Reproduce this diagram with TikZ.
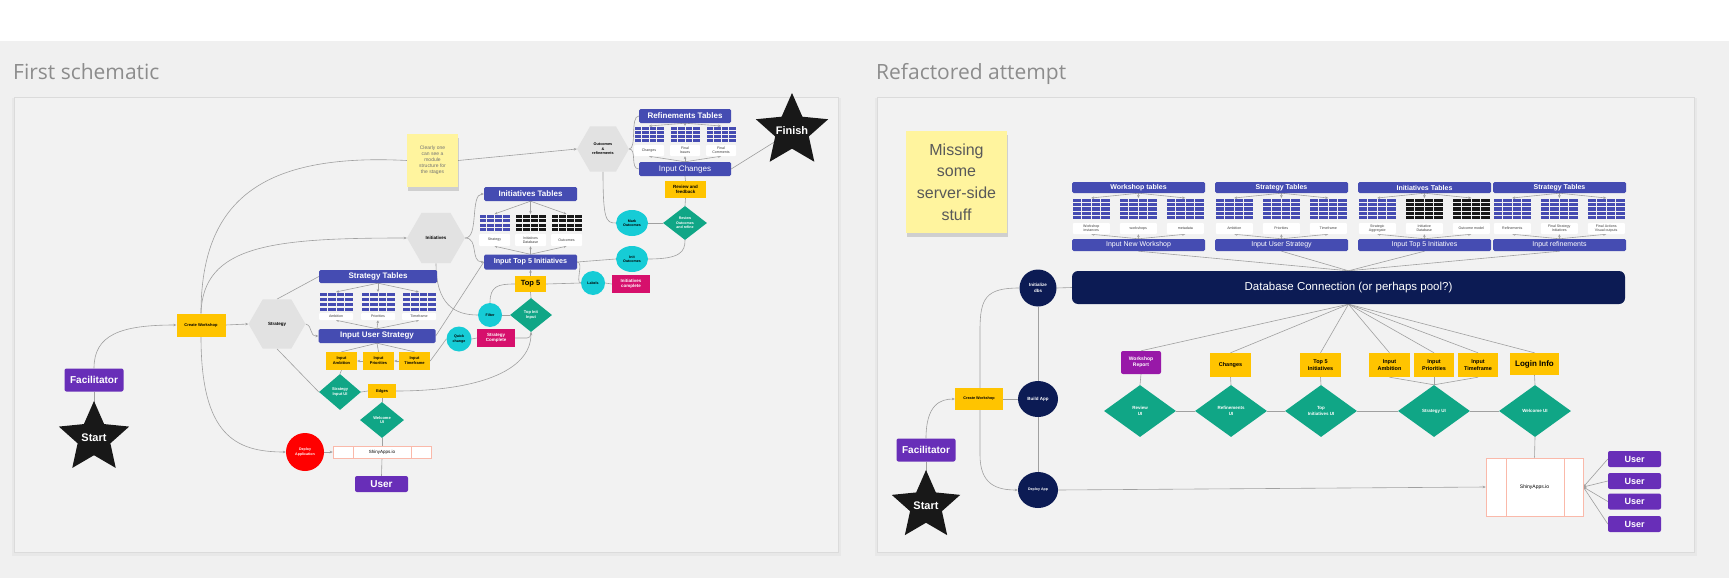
\documentclass[tikz,border=0pt]{standalone}
\usepackage{fontspec}
\setmainfont{Liberation Sans}
\newfontfamily\ttlfont{Open Sans}
\usetikzlibrary{shapes.geometric,arrows.meta,shadows}
\pgfdeclarelayer{back}
\pgfdeclarelayer{bg}
\pgfsetlayers{back,bg,main}
\newcommand\myfs[1]{\fontsize{#1}{1.2\dimexpr#1pt\relax}\selectfont}
\definecolor{tblue}{RGB}{69,76,178}
\definecolor{yel}{RGB}{255,196,0}
\definecolor{grn}{RGB}{16,166,134}
\definecolor{cya}{RGB}{22,204,214}
\definecolor{mag}{RGB}{214,16,108}
\definecolor{purp}{RGB}{104,46,184}
\definecolor{purp2}{RGB}{152,24,168}
\definecolor{navy}{RGB}{12,27,84}
\definecolor{hexg}{RGB}{226,226,226}
\definecolor{stk}{RGB}{255,244,158}
\definecolor{edg}{RGB}{160,160,160}
\definecolor{pbg}{RGB}{242,242,242}
\definecolor{obg}{RGB}{240,240,240}
\definecolor{salm}{RGB}{250,185,170}
\definecolor{starblk}{RGB}{24,24,24}
\newcommand\mygrid[7]{%
  \foreach \gi in {1,...,#5}{\foreach \gj in {1,...,#6}{%
    \fill[#7] ({#1+(\gi-1)*#3/#5+0.5},{#2+(\gj-1)*#4/#6+0.5}) rectangle ++({#3/#5-1},{#4/#6-1.1});}}}
\newcommand\tgroup[9]{%
  \node[hdr, sz={133}{11}, font=\bfseries\myfs{7}] (h#1) at ({#2+66.5},187.5) {#3};
  \mygrid{#2}{198}{38.5}{22}{4}{5}{tblue}
  \mygrid{#2+47}{198}{38.5}{22}{4}{5}{#8}
  \mygrid{#2+94}{198}{38.5}{22}{4}{5}{#9}
  \coordinate (g#1a) at ({#2+19.25},198);
  \coordinate (g#1b) at ({#2+66.25},198);
  \coordinate (g#1c) at ({#2+113.25},198);
  \node[lbl, sz={37}{11}] (l#1a) at ({#2+19.25},228.5) {#5};
  \node[lbl, sz={37}{11}] (l#1b) at ({#2+66.25},228.5) {#6};
  \node[lbl, sz={37}{11}] (l#1c) at ({#2+113.25},228.5) {#7};
  \node[hdr, sz={133}{12}, font=\myfs{7}] (f#1) at ({#2+66.5},245) {#4};
  \begin{pgfonlayer}{bg}
    \draw[ar] (h#1.south) -- (g#1a);
    \draw[ar] (h#1.south) -- (g#1b);
    \draw[ar] (h#1.south) -- (g#1c);
    \draw[ar] (f#1.north) -- (l#1a.south);
    \draw[ar] (f#1.north) -- (l#1b.south);
    \draw[ar] (f#1.north) -- (l#1c.south);
    \draw[ln] (f#1.south) -- (db.north);
  \end{pgfonlayer}
}
\begin{document}
\begin{tikzpicture}[x=1pt,y=-1pt,
  ln/.style={draw=edg, line width=0.6pt},
  ar/.style={ln, -{Stealth[length=3pt,width=2.6pt]}},
  sz/.style 2 args={minimum width=#1pt, minimum height=#2pt},
  bs/.style={inner sep=0pt, align=center},
  hdr/.style={bs, fill=tblue, rounded corners=1.5pt, text=white, font=\bfseries\myfs{8}},
  ybox/.style={bs, fill=yel, text=black, font=\bfseries\myfs{4}},
  lbl/.style={bs, fill=white, rounded corners=1pt, text=black!75, font=\myfs{3.6}},
  dia/.style={bs, diamond, fill=grn, text=white, font=\bfseries\myfs{4}},
  cyc/.style={bs, ellipse, fill=cya, text=black, font=\bfseries\myfs{3.6}},
  mg/.style={bs, fill=mag, text=white, font=\bfseries\myfs{4.5}},
  pu/.style={bs, fill=purp, rounded corners=2pt, text=white, font=\bfseries\myfs{10}},
  hx/.style={bs, regular polygon, regular polygon sides=6, fill=hexg, text=black, font=\bfseries\myfs{4.5}},
  stshape/.style={bs, star, star points=5, star point ratio=2.15, fill=starblk,
    label={[text=white, font=\bfseries\myfs{11}, inner sep=0pt]center:#1}},
  nv/.style={bs, ellipse, fill=navy, text=white, font=\bfseries\myfs{4.5}},
  shin/.style={bs, fill=white, draw=salm, line width=0.6pt, font=\myfs{4.5}},
  stickynote/.style={bs, fill=stk, drop shadow={opacity=0.3, shadow xshift=1pt, shadow yshift=-4pt}},
]
\useasboundingbox (0,0) rectangle (1729,578);
\begin{pgfonlayer}{back}
  \fill[white] (0,0) rectangle (1729,41);
  \fill[obg] (0,41) rectangle (1729,578);
  \fill[black!9] (12,98) rectangle (841,556);
  \fill[pbg, draw=black!14] (14,97) rectangle (838,552);
  \fill[black!9] (875,98) rectangle (1697,556);
  \fill[pbg, draw=black!14] (877,97) rectangle (1694,552);
\end{pgfonlayer}
\node[anchor=base west, inner sep=0pt, text=black!45, font=\ttlfont\myfs{21}] (t1) at (13,80) {First schematic};
\node[anchor=base west, inner sep=0pt, text=black!45, font=\ttlfont\myfs{21}] (t2) at (876,80) {Refactored attempt};

% ================= LEFT PANEL =================
\node[pu, sz={59}{23}] (facL) at (94,380) {Facilitator};
\node[stshape=Start, minimum size=74pt] (startL) at (94,438) {};
\node[ybox, sz={49}{23}] (cwL) at (201,325) {Create Workshop};
\node[hx, minimum size=57pt] (hexS) at (277,324) {Strategy};
\node[hdr, sz={118}{13}] (stT) at (378,276.5) {Strategy Tables};
\mygrid{319}{292}{34}{20}{4}{4}{tblue}
\mygrid{361}{292}{34}{20}{4}{4}{tblue}
\mygrid{402}{292}{34}{20}{4}{4}{tblue}
\coordinate (sg1) at (336,292);
\coordinate (sg2) at (378,292);
\coordinate (sg3) at (419,292);
\node[lbl, sz={34}{7}] (stl1) at (336,316.5) {Ambition};
\node[lbl, sz={34}{7}] (stl2) at (378,316.5) {Priorities};
\node[lbl, sz={34}{7}] (stl3) at (419,316.5) {Timeframe};
\node[hdr, sz={117}{14}] (ius) at (377,336) {Input User Strategy};
\node[ybox, sz={31}{18}] (iaL) at (341.5,361) {Input\\Ambition};
\node[ybox, sz={31}{18}] (ipL) at (378.5,361) {Input\\Priorities};
\node[ybox, sz={31}{18}] (itL) at (414.5,361) {Input\\Timeframe};
\node[cyc, sz={25}{25}] (qcL) at (459,339) {Quick\\change};
\node[mg, sz={38}{18}] (scL) at (496,338) {Strategy\\Complete};
\node[dia, sz={42}{36}] (siuL) at (340,392) {Strategy\\Input UI};
\node[ybox, sz={28}{14}] (edL) at (382,391) {Edges};
\node[dia, sz={44}{36}] (wuiL) at (382,420) {Welcome\\UI};
\node[shin, sz={98}{12}] (shL) at (382,452) {ShinyApps.io};
\draw[salm, line width=0.6pt] (353,446) -- (353,458) (411,446) -- (411,458);
\node[bs, circle, fill=red, minimum size=38pt, text=white, font=\bfseries\myfs{3.6}] (depL) at (305,452) {Deploy\\Application};
\node[pu, sz={53}{16}] (userL) at (381.5,484) {User};

\node[hx, minimum size=58pt] (hexI) at (436,238) {Initiatives};
\node[hdr, sz={93}{14}] (itT) at (530.5,194) {Initiatives Tables};
\mygrid{479}{214}{31}{18}{4}{4}{tblue}
\mygrid{515}{214}{31}{18}{4}{4}{starblk}
\mygrid{551}{214}{31}{18}{4}{4}{starblk}
\coordinate (ig1) at (494.5,214);
\coordinate (ig2) at (530.5,214);
\coordinate (ig3) at (566.5,214);
\node[lbl, sz={31}{12}] (il1) at (494.5,240) {Strategy};
\node[lbl, sz={31}{12}] (il2) at (530.5,240) {Initiatives\\Database};
\node[lbl, sz={31}{12}] (il3) at (566.5,240) {Outcomes};
\node[hdr, sz={93}{15}, font=\bfseries\myfs{7.2}] (it5) at (530.5,262) {Input Top 5 Initiatives};
\node[cyc, sz={24}{24}] (fiL) at (490,315) {Filter};
\node[dia, sz={42}{34}] (tiiL) at (531,315) {Top Init\\Input};
\node[ybox, sz={31}{16}, font=\bfseries\myfs{7.5}] (t5L) at (530.5,284) {Top 5};
\node[cyc, sz={24}{24}] (laL) at (593,283) {Labels};
\node[mg, sz={38}{18}] (icL) at (631,284) {Initiatives\\complete};
\node[cyc, sz={32}{26}] (ioL) at (632,259) {Init\\Outcomes};
\node[cyc, sz={32}{26}] (moL) at (632,223) {Mark\\Outcomes};
\node[dia, sz={44}{34}, font=\bfseries\myfs{3.6}] (rodL) at (685,223) {Review\\Outcomes\\and refine};
\node[ybox, sz={41}{17}, font=\bfseries\myfs{4.5}] (rfL) at (685.5,189.5) {Review and\\feedback};
\node[hdr, sz={92}{14}, font=\myfs{8}] (inchL) at (685,169) {Input Changes};
\node[hdr, sz={92}{14}] (rfT) at (685,116) {Refinements Tables};
\mygrid{634}{126}{30}{17}{4}{4}{tblue}
\mygrid{670}{126}{30}{17}{4}{4}{tblue}
\mygrid{706}{126}{30}{17}{4}{4}{tblue}
\coordinate (rg1) at (649,126);
\coordinate (rg2) at (685,126);
\coordinate (rg3) at (721,126);
\node[lbl, sz={30}{11}] (rl1) at (649,150.5) {Changes};
\node[lbl, sz={30}{11}] (rl2) at (685,150.5) {Final\\Issues};
\node[lbl, sz={30}{11}] (rl3) at (721,150.5) {Final\\Comments};
\node[hx, minimum size=52pt, font=\bfseries\myfs{3.8}] (hexO) at (603,149) {Outcomes\\\&\\refinements};
\node[stshape=Finish, minimum size=76pt] (finL) at (792,131) {};
\node[stickynote, sz={51}{53}, text=black!55, font=\myfs{5}] (stkL) at (432.5,160.5) {Clearly one\\can see a\\module\\structure for\\the stages};

\begin{pgfonlayer}{bg}
  \draw[ln] (facL.south) -- (startL.center);
  \draw[ar] (facL.north) .. controls (94,335) and (120,325) .. (cwL.west);
  \draw[ar] (cwL.east) -- (hexS.west);
  \draw[ln] (hexS.north) -- (stT.west);
  \draw[ar] (hexS.east) .. controls (313,326) and (309,336) .. (ius.west);
  \draw[ln] (hexS.south) -- (siuL.west);
  \draw[ar] (stT.south) -- (sg1);
  \draw[ar] (stT.south) -- (sg2);
  \draw[ar] (stT.south) -- (sg3);
  \draw[ar] (ius.north) -- (stl1.south);
  \draw[ar] (ius.north) -- (stl2.south);
  \draw[ar] (ius.north) -- (stl3.south);
  \draw[ln] (ius.south) -- (iaL.north);
  \draw[ln] (ius.south) -- (ipL.north);
  \draw[ln] (ius.south) -- (itL.north);
  \draw[ar] (itL.west) -- (ipL.east);
  \draw[ar] (ipL.west) -- (iaL.east);
  \draw[ln] (iaL.south) -- (siuL.north);
  \draw[ln] (itL.east) -- (qcL.west);
  \draw[ln] (qcL.east) -- (scL.west);
  \draw[ln, rounded corners=4pt] (scL.east) -| (tiiL.south);
  \draw[ln] (siuL.east) -- (edL.west);
  \draw[ar] (edL.east) .. controls (475,391) and (531,372) .. (tiiL.south);
  \draw[ln] (edL.south) -- (wuiL.north);
  \draw[ln] (wuiL.south) -- (shL.north);
  \draw[ar] (depL.east) -- (shL.west);
  \draw[ln] (shL.south) -- (userL.north);
  \draw[ar] (cwL.south) .. controls (201,435) and (235,452) .. (depL.west);
  \draw[ln] (cwL.north) .. controls (201,200) and (262,153) .. (stkL.west);
  \draw[ar] (stkL.east) -- (hexO.west);
  \draw[ar] (cwL.north) .. controls (203,245) and (272,238) .. (hexI.west);
  \draw[ar] (hexI.east) .. controls (479,238) and (470,194) .. (itT.west);
  \draw[ar] (hexI.east) .. controls (479,238) and (470,262) .. (it5.west);
  \draw[ar] (itT.south) -- (ig1);
  \draw[ar] (itT.south) -- (ig2);
  \draw[ar] (itT.south) -- (ig3);
  \draw[ar] (it5.north) -- (il1.south);
  \draw[ar] (it5.north) -- (il2.south);
  \draw[ar] (it5.north) -- (il3.south);
  \draw[ln] (ius.east) -- (it5.west);
  \draw[ln] (hexI.south) .. controls (436,305) and (455,315) .. (fiL.west);
  \draw[ln] (fiL.east) -- (tiiL.west);
  \draw[ln] (fiL.north) .. controls (490,286) and (498,284) .. (t5L.west);
  \draw[ln] (tiiL.north) -- (t5L.south);
  \draw[ar] (t5L.north) -- (it5.south);
  \draw[ln] (t5L.east) -- (laL.west);
  \draw[ln] (it5.east) .. controls (584,262) and (575,283) .. (laL.west);
  \draw[ln] (laL.east) -- (icL.west);
  \draw[ln] (it5.east) -- (ioL.west);
  \draw[ln] (ioL.east) .. controls (680,259) and (685,252) .. (rodL.south);
  \draw[ln] (moL.east) -- (rodL.west);
  \draw[ln] (hexO.south) .. controls (603,220) and (606,223) .. (moL.west);
  \draw[ln] (rodL.north) -- (rfL.south);
  \draw[ln] (rfL.north) -- (inchL.south);
  \draw[ln] (inchL.east) -- (finL.center);
  \draw[ln] (hexO.east) .. controls (637,149) and (630,116) .. (rfT.west);
  \draw[ln] (hexO.east) .. controls (637,149) and (630,169) .. (inchL.west);
  \draw[ar] (rfT.south) -- (rg1);
  \draw[ar] (rfT.south) -- (rg2);
  \draw[ar] (rfT.south) -- (rg3);
  \draw[ar] (inchL.north) -- (rl1.south);
  \draw[ar] (inchL.north) -- (rl2.south);
  \draw[ar] (inchL.north) -- (rl3.south);
\end{pgfonlayer}

% ================= RIGHT PANEL =================
\node[stickynote, sz={101}{102}, text=black!65, font=\fontsize{16}{21.7}\selectfont] (stkR) at (956.5,182) {Missing\\some\\server-side\\stuff};
\node[bs, fill=navy, rounded corners=6pt, sz={553}{33}, text=white, font=\myfs{11.5}] (db) at (1348.5,287.5) {Database Connection (or perhaps pool?)};
\tgroup{1}{1072}{Workshop tables}{Input New Workshop}{Workshop\\instances}{workshops}{metadata}{tblue}{tblue}
\tgroup{2}{1215}{Strategy Tables}{Input User Strategy}{Ambition}{Priorities}{Timeframe}{tblue}{tblue}
\tgroup{3}{1358}{Initiatives Tables}{Input Top 5 Initiatives}{Strategic\\Aggregate}{Initiative\\Database}{Outcome model}{starblk}{starblk}
\tgroup{4}{1493}{Strategy Tables}{Input refinements}{Refinements}{Final Strategy\\Initiatives}{Final Actions\\Visual outputs}{tblue}{tblue}
\node[nv, sz={37}{37}] (ini) at (1038,288) {Initialize\\dbs};
\node[nv, sz={40}{36}] (bld) at (1038,399) {Build App};
\node[nv, sz={40}{36}, font=\bfseries\myfs{3.6}] (dep) at (1038,490) {Deploy App};
\node[ybox, sz={48}{22}, font=\bfseries\myfs{3.8}] (cwR) at (979,399) {Create Workshop};
\node[pu, sz={59}{23}] (facR) at (926,450) {Facilitator};
\node[stshape=Start, minimum size=72pt] (startR) at (926,506) {};
\node[bs, fill=purp2, rounded corners=2pt, sz={40}{23}, text=white, font=\bfseries\myfs{5}] (wr) at (1141,362.5) {Workshop\\Report};
\node[ybox, sz={41}{24}, font=\bfseries\myfs{5.5}] (ch) at (1230.5,365) {Changes};
\node[ybox, sz={41}{24}, font=\bfseries\myfs{5.5}] (t5R) at (1320.5,365) {Top 5\\Initiatives};
\node[ybox, sz={41}{24}, font=\bfseries\myfs{5.5}] (iaR) at (1389.5,365) {Input\\Ambition};
\node[ybox, sz={40}{24}, font=\bfseries\myfs{5.5}] (ipR) at (1434,365) {Input\\Priorities};
\node[ybox, sz={40}{24}, font=\bfseries\myfs{5.5}] (itR) at (1478,365) {Input\\Timeframe};
\node[ybox, sz={49}{22}, font=\bfseries\myfs{8}] (li) at (1534.5,364) {Login Info};
\node[dia, sz={72}{52}, font=\bfseries\myfs{4.5}] (rui) at (1140,411) {Review\\UI};
\node[dia, sz={72}{52}, font=\bfseries\myfs{4.5}] (refui) at (1231,411) {Refinements\\UI};
\node[dia, sz={72}{52}, font=\bfseries\myfs{4.5}] (tiui) at (1321,411) {Top\\Initiatives UI};
\node[dia, sz={72}{52}, font=\bfseries\myfs{4.5}] (sui) at (1434,411) {Strategy UI};
\node[dia, sz={72}{52}, font=\bfseries\myfs{4.5}] (wui) at (1535,411) {Welcome UI};
\node[shin, sz={97}{58}, font=\myfs{5}] (shR) at (1534.5,487) {ShinyApps.io};
\draw[salm, line width=0.6pt] (1506,458) -- (1506,516) (1564,458) -- (1564,516);
\node[pu, sz={53}{16}, font=\bfseries\myfs{9}] (u1) at (1634.5,459) {User};
\node[pu, sz={53}{16}, font=\bfseries\myfs{9}] (u2) at (1634.5,481) {User};
\node[pu, sz={53}{16}, font=\bfseries\myfs{9}] (u3) at (1634.5,501.5) {User};
\node[pu, sz={53}{16}, font=\bfseries\myfs{9}] (u4) at (1634.5,524) {User};

\begin{pgfonlayer}{bg}
  \draw[ln] (facR.south) -- (startR.center);
  \draw[ar] (facR.north) .. controls (926,405) and (940,399) .. (cwR.west);
  \draw[ln] (cwR.east) -- (bld.west);
  \draw[ln] (ini.south) -- (bld.north);
  \draw[ln] (bld.south) -- (dep.north);
  \draw[ln] (ini.east) -- (db.west);
  \draw[ar] (ini.west) .. controls (986,288) and (980,298) .. (980,330) -- (980,455) .. controls (980,484) and (996,490) .. (dep.west);
  \draw[ar] (dep.east) -- (shR.west);
  \draw[ln] (db.south) -- (wr.north);
  \draw[ln] (db.south) -- (ch.north);
  \draw[ln] (db.south) -- (t5R.north);
  \draw[ln] (db.south) -- (iaR.north);
  \draw[ln] (db.south) -- (ipR.north);
  \draw[ln] (db.south) -- (itR.north);
  \draw[ln] (db.south) -- (li.north);
  \draw[ln] (wr.south) -- (rui.north);
  \draw[ln] (ch.south) -- (refui.north);
  \draw[ln] (t5R.south) -- (tiui.north);
  \draw[ln] (iaR.south) -- (sui.north);
  \draw[ln] (ipR.south) -- (sui.north);
  \draw[ln] (itR.south) -- (sui.north);
  \draw[ln] (li.south) -- (wui.north);
  \draw[ln] (rui.east) -- (refui.west);
  \draw[ln] (refui.east) -- (tiui.west);
  \draw[ln] (tiui.east) -- (sui.west);
  \draw[ln] (sui.east) -- (wui.west);
  \draw[ln] (wui.south) -- (shR.north);
  \draw[ar] (u1.west) -- (shR.east);
  \draw[ar] (u2.west) -- (shR.east);
  \draw[ar] (u3.west) -- (shR.east);
  \draw[ar] (u4.west) -- (shR.east);
\end{pgfonlayer}
\end{tikzpicture}
\end{document}
